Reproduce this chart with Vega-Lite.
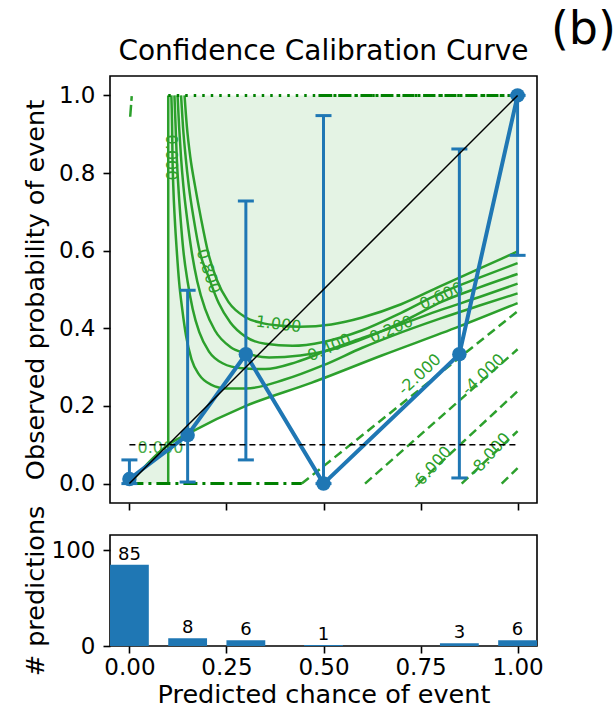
{
  "$schema": "https://vega.github.io/schema/vega-lite/v6.json",
  "title": {"text": "(b)", "anchor": "end", "fontSize": 46, "dx": 72, "offset": -17, "fontWeight": "normal", "color": "black"},
  "padding": {"left": 22, "top": 7, "right": 2, "bottom": 2},
  "bounds": "flush",
  "spacing": 32,
  "config": {
    "font": "DejaVu Sans",
    "view": {"stroke": "black", "strokeWidth": 1.6},
    "axis": {"grid": false, "domain": false, "tickColor": "black", "tickSize": 7, "tickWidth": 1.6, "labelFontSize": 23, "titleFontSize": 25.5, "labelColor": "black", "titleColor": "black", "titleFontWeight": "normal", "labelPadding": 8},
    "title": {"fontSize": 28, "fontWeight": "normal", "color": "black"}
  },
  "datasets": {
    "fill": [
      {"part": "a", "x": 0, "y": 0, "y2": 0},
      {"part": "a", "x": 0.1, "y": 0.1, "y2": 0},
      {"part": "b", "x": 0.1, "y": 1, "y2": 0.1},
      {"part": "b", "x": 0.15, "y": 1, "y2": 0.128},
      {"part": "b", "x": 0.3, "y": 1, "y2": 0.2},
      {"part": "b", "x": 0.47, "y": 1, "y2": 0.26},
      {"part": "b", "x": 0.65, "y": 1, "y2": 0.33},
      {"part": "b", "x": 0.85, "y": 1, "y2": 0.405},
      {"part": "b", "x": 1.0, "y": 1, "y2": 0.465}
    ],
    "contours": [
      {"level": "1.0", "x": 0.142, "y": 1.0}, {"level": "1.0", "x": 0.148, "y": 0.92}, {"level": "1.0", "x": 0.157, "y": 0.84}, {"level": "1.0", "x": 0.169, "y": 0.767}, {"level": "1.0", "x": 0.185, "y": 0.68}, {"level": "1.0", "x": 0.203, "y": 0.594}, {"level": "1.0", "x": 0.225, "y": 0.525}, {"level": "1.0", "x": 0.255, "y": 0.468}, {"level": "1.0", "x": 0.3, "y": 0.428}, {"level": "1.0", "x": 0.34, "y": 0.414}, {"level": "1.0", "x": 0.384, "y": 0.407}, {"level": "1.0", "x": 0.44, "y": 0.404}, {"level": "1.0", "x": 0.52, "y": 0.41}, {"level": "1.0", "x": 0.6, "y": 0.428}, {"level": "1.0", "x": 0.7, "y": 0.462}, {"level": "1.0", "x": 0.8, "y": 0.508}, {"level": "1.0", "x": 0.9, "y": 0.553}, {"level": "1.0", "x": 1.0, "y": 0.598},
      {"level": "0.8", "x": 0.133, "y": 1.0}, {"level": "0.8", "x": 0.138, "y": 0.92}, {"level": "0.8", "x": 0.145, "y": 0.84}, {"level": "0.8", "x": 0.153, "y": 0.767}, {"level": "0.8", "x": 0.166, "y": 0.68}, {"level": "0.8", "x": 0.182, "y": 0.594}, {"level": "0.8", "x": 0.203, "y": 0.535}, {"level": "0.8", "x": 0.23, "y": 0.465}, {"level": "0.8", "x": 0.26, "y": 0.415}, {"level": "0.8", "x": 0.3, "y": 0.378}, {"level": "0.8", "x": 0.35, "y": 0.36}, {"level": "0.8", "x": 0.42, "y": 0.355}, {"level": "0.8", "x": 0.5, "y": 0.365}, {"level": "0.8", "x": 0.6, "y": 0.395}, {"level": "0.8", "x": 0.7, "y": 0.44}, {"level": "0.8", "x": 0.8, "y": 0.49}, {"level": "0.8", "x": 0.9, "y": 0.53}, {"level": "0.8", "x": 1.0, "y": 0.568},
      {"level": "0.6", "x": 0.124, "y": 1.0}, {"level": "0.6", "x": 0.128, "y": 0.92}, {"level": "0.6", "x": 0.133, "y": 0.84}, {"level": "0.6", "x": 0.139, "y": 0.767}, {"level": "0.6", "x": 0.149, "y": 0.68}, {"level": "0.6", "x": 0.16, "y": 0.6}, {"level": "0.6", "x": 0.175, "y": 0.52}, {"level": "0.6", "x": 0.195, "y": 0.45}, {"level": "0.6", "x": 0.22, "y": 0.395}, {"level": "0.6", "x": 0.26, "y": 0.352}, {"level": "0.6", "x": 0.3, "y": 0.336}, {"level": "0.6", "x": 0.36, "y": 0.325}, {"level": "0.6", "x": 0.44, "y": 0.33}, {"level": "0.6", "x": 0.52, "y": 0.345}, {"level": "0.6", "x": 0.62, "y": 0.38}, {"level": "0.6", "x": 0.72, "y": 0.425}, {"level": "0.6", "x": 0.804, "y": 0.468}, {"level": "0.6", "x": 0.9, "y": 0.505}, {"level": "0.6", "x": 1.0, "y": 0.54},
      {"level": "0.4", "x": 0.116, "y": 1.0}, {"level": "0.4", "x": 0.119, "y": 0.92}, {"level": "0.4", "x": 0.122, "y": 0.84}, {"level": "0.4", "x": 0.126, "y": 0.767}, {"level": "0.4", "x": 0.132, "y": 0.68}, {"level": "0.4", "x": 0.139, "y": 0.6}, {"level": "0.4", "x": 0.15, "y": 0.52}, {"level": "0.4", "x": 0.163, "y": 0.45}, {"level": "0.4", "x": 0.18, "y": 0.39}, {"level": "0.4", "x": 0.205, "y": 0.34}, {"level": "0.4", "x": 0.24, "y": 0.31}, {"level": "0.4", "x": 0.29, "y": 0.297}, {"level": "0.4", "x": 0.35, "y": 0.295}, {"level": "0.4", "x": 0.43, "y": 0.313}, {"level": "0.4", "x": 0.515, "y": 0.345}, {"level": "0.4", "x": 0.6, "y": 0.375}, {"level": "0.4", "x": 0.7, "y": 0.41}, {"level": "0.4", "x": 0.804, "y": 0.448}, {"level": "0.4", "x": 0.9, "y": 0.48}, {"level": "0.4", "x": 1.0, "y": 0.515},
      {"level": "0.2", "x": 0.108, "y": 1.0}, {"level": "0.2", "x": 0.11, "y": 0.92}, {"level": "0.2", "x": 0.111, "y": 0.84}, {"level": "0.2", "x": 0.113, "y": 0.767}, {"level": "0.2", "x": 0.117, "y": 0.68}, {"level": "0.2", "x": 0.122, "y": 0.6}, {"level": "0.2", "x": 0.128, "y": 0.52}, {"level": "0.2", "x": 0.136, "y": 0.45}, {"level": "0.2", "x": 0.146, "y": 0.38}, {"level": "0.2", "x": 0.16, "y": 0.32}, {"level": "0.2", "x": 0.18, "y": 0.28}, {"level": "0.2", "x": 0.21, "y": 0.255}, {"level": "0.2", "x": 0.25, "y": 0.245}, {"level": "0.2", "x": 0.3, "y": 0.245}, {"level": "0.2", "x": 0.4, "y": 0.268}, {"level": "0.2", "x": 0.5, "y": 0.305}, {"level": "0.2", "x": 0.6, "y": 0.35}, {"level": "0.2", "x": 0.675, "y": 0.38}, {"level": "0.2", "x": 0.8, "y": 0.425}, {"level": "0.2", "x": 0.9, "y": 0.458}, {"level": "0.2", "x": 1.0, "y": 0.49},
      {"level": "0.0", "x": 0.0, "y": 0.0}, {"level": "0.0", "x": 0.1, "y": 0.1}, {"level": "0.0", "x": 0.15, "y": 0.128}, {"level": "0.0", "x": 0.3, "y": 0.2}, {"level": "0.0", "x": 0.47, "y": 0.26}, {"level": "0.0", "x": 0.65, "y": 0.33}, {"level": "0.0", "x": 0.85, "y": 0.405}, {"level": "0.0", "x": 1.0, "y": 0.465}
    ],
    "vline": [{"x": 0.1, "y": 0, "y2": 1}],
    "neg": [
      {"level": "-2", "x": 0.444, "y": 0}, {"level": "-2", "x": 1.0, "y": 0.444},
      {"level": "-4", "x": 0.607, "y": 0}, {"level": "-4", "x": 1.0, "y": 0.346},
      {"level": "-6", "x": 0.744, "y": 0}, {"level": "-6", "x": 1.0, "y": 0.238},
      {"level": "-8", "x": 0.856, "y": 0}, {"level": "-8", "x": 1.0, "y": 0.135},
      {"level": "-10", "x": 0.959, "y": 0}, {"level": "-10", "x": 1.0, "y": 0.04}
    ],
    "topdot": [{"x": 0.1, "y": 1}, {"x": 1.0, "y": 1}],
    "topdashdot": [{"x": 0.487, "y": 1}, {"x": 1.0, "y": 1}],
    "botdashdot": [{"x": 0.0, "y": 0}, {"x": 0.444, "y": 0}],
    "bang": [{"x": 0.002, "y": 0.945}, {"x": 0.006, "y": 0.998}],
    "diag": [{"x": 0, "y": 0}, {"x": 1, "y": 1}],
    "thresh": [{"x": 0, "y": 0.1}, {"x": 1, "y": 0.1}],
    "calib": [
      {"x": 0.0, "y": 0.0118}, {"x": 0.15, "y": 0.125}, {"x": 0.3, "y": 0.3333},
      {"x": 0.5, "y": 0.0}, {"x": 0.85, "y": 0.3333}, {"x": 1.0, "y": 1.0}
    ],
    "err": [
      {"x": 0.0, "y": 0.0, "y2": 0.061}, {"x": 0.15, "y": 0.004, "y2": 0.498},
      {"x": 0.3, "y": 0.061, "y2": 0.728}, {"x": 0.5, "y": 0.0, "y2": 0.948},
      {"x": 0.85, "y": 0.0145, "y2": 0.862}, {"x": 1.0, "y": 0.588, "y2": 1.0}
    ],
    "caps": [
      {"x": 0.0, "y": 0.0}, {"x": 0.0, "y": 0.061},
      {"x": 0.15, "y": 0.004}, {"x": 0.15, "y": 0.498},
      {"x": 0.3, "y": 0.061}, {"x": 0.3, "y": 0.728},
      {"x": 0.5, "y": 0.0}, {"x": 0.5, "y": 0.948},
      {"x": 0.85, "y": 0.0145}, {"x": 0.85, "y": 0.862},
      {"x": 1.0, "y": 0.588}, {"x": 1.0, "y": 1.0}
    ],
    "hist": [
      {"bin_start": -0.05, "bin_end": 0.05, "center": 0.0, "n": 85},
      {"bin_start": 0.1, "bin_end": 0.2, "center": 0.15, "n": 8},
      {"bin_start": 0.25, "bin_end": 0.35, "center": 0.3, "n": 6},
      {"bin_start": 0.45, "bin_end": 0.55, "center": 0.5, "n": 1},
      {"bin_start": 0.8, "bin_end": 0.9, "center": 0.85, "n": 3},
      {"bin_start": 0.95, "bin_end": 1.05, "center": 1.0, "n": 6}
    ]
  },
  "vconcat": [
    {
      "width": 427,
      "height": 427,
      "title": {"text": "Confidence Calibration Curve", "offset": 10},
      "encoding": {
        "x": {"field": "x", "type": "quantitative", "scale": {"domain": [-0.05, 1.05], "nice": false, "zero": false}, "axis": {"values": [0, 0.25, 0.5, 0.75, 1], "labels": false, "title": null}},
        "y": {"field": "y", "type": "quantitative", "scale": {"domain": [-0.05, 1.05], "nice": false, "zero": false}, "axis": {"values": [0, 0.2, 0.4, 0.6, 0.8, 1.0], "format": ".1f", "title": "Observed probability of event", "titlePadding": 10}}
      },
      "layer": [
        {"data": {"name": "fill"}, "mark": {"type": "area", "color": "#2ca02c", "opacity": 0.13}, "encoding": {"y2": {"field": "y2"}, "detail": {"field": "part"}}},
        {"data": {"name": "vline"}, "mark": {"type": "rule", "color": "#2ca02c", "strokeWidth": 2.5}, "encoding": {"y2": {"field": "y2"}}},
        {"data": {"name": "contours"}, "mark": {"type": "line", "color": "#2ca02c", "strokeWidth": 2.5, "interpolate": "monotone"}, "encoding": {"detail": {"field": "level"}}},
        {"data": {"name": "neg"}, "mark": {"type": "line", "color": "#2ca02c", "strokeWidth": 2.5, "strokeDash": [9, 5]}, "encoding": {"detail": {"field": "level"}}},
        {"data": {"name": "topdot"}, "mark": {"type": "line", "color": "#008000", "strokeWidth": 3, "strokeDash": [2.5, 6]}, "encoding": {}},
        {"data": {"name": "topdashdot"}, "mark": {"type": "line", "color": "#008000", "strokeWidth": 3, "strokeDash": [12, 3, 3, 3]}, "encoding": {}},
        {"data": {"name": "botdashdot"}, "mark": {"type": "line", "color": "#008000", "strokeWidth": 3, "strokeDash": [14, 5, 3, 5]}, "encoding": {}},
        {"data": {"name": "bang"}, "mark": {"type": "line", "color": "#2ca02c", "strokeWidth": 2.5, "strokeDash": [12, 4]}, "encoding": {}},
        {"data": {"values": [{"x": 0.08, "y": 0.092, "t": "0.000"}]}, "mark": {"type": "text", "color": "#2ca02c", "fontSize": 16, "opacity": 0.85}, "encoding": {"text": {"field": "t"}}},
        {"data": {"values": [{"x": 0.107, "y": 0.84, "t": "0.000"}]}, "mark": {"type": "text", "color": "#2ca02c", "fontSize": 16, "angle": 90}, "encoding": {"text": {"field": "t"}}},
        {"data": {"values": [{"x": 0.203, "y": 0.547, "t": "0.800"}]}, "mark": {"type": "text", "color": "#2ca02c", "fontSize": 16, "angle": 72}, "encoding": {"text": {"field": "t"}}},
        {"data": {"values": [{"x": 0.384, "y": 0.41, "t": "1.000"}]}, "mark": {"type": "text", "color": "#2ca02c", "fontSize": 16, "angle": 7}, "encoding": {"text": {"field": "t"}}},
        {"data": {"values": [{"x": 0.515, "y": 0.35, "t": "0.400"}, {"x": 0.675, "y": 0.397, "t": "0.200"}, {"x": 0.804, "y": 0.483, "t": "0.600"}]}, "mark": {"type": "text", "color": "#2ca02c", "fontSize": 16, "angle": -24}, "encoding": {"text": {"field": "t"}}},
        {"data": {"values": [{"x": 0.748, "y": 0.281, "t": "-2.000"}, {"x": 0.912, "y": 0.281, "t": "-4.000"}]}, "mark": {"type": "text", "color": "#2ca02c", "fontSize": 16, "angle": -43}, "encoding": {"text": {"field": "t"}}},
        {"data": {"values": [{"x": 0.778, "y": 0.04, "t": "-6.000"}, {"x": 0.929, "y": 0.075, "t": "-8.000"}]}, "mark": {"type": "text", "color": "#2ca02c", "fontSize": 16, "angle": -48}, "encoding": {"text": {"field": "t"}}},
        {"data": {"name": "err"}, "mark": {"type": "rule", "color": "#1f77b4", "strokeWidth": 3}, "encoding": {"y2": {"field": "y2"}}},
        {"data": {"name": "caps"}, "mark": {"type": "tick", "color": "#1f77b4", "orient": "horizontal", "size": 16, "thickness": 3, "opacity": 1}, "encoding": {}},
        {"data": {"name": "calib"}, "mark": {"type": "line", "color": "#1f77b4", "strokeWidth": 4}, "encoding": {}},
        {"data": {"name": "calib"}, "mark": {"type": "circle", "color": "#1f77b4", "size": 210, "opacity": 1}, "encoding": {}},
        {"data": {"name": "diag"}, "mark": {"type": "line", "color": "black", "strokeWidth": 1.5}, "encoding": {}},
        {"data": {"name": "thresh"}, "mark": {"type": "line", "color": "black", "strokeWidth": 1.5, "strokeDash": [6, 4]}, "encoding": {}}
      ]
    },
    {
      "width": 427,
      "height": 111,
      "data": {"name": "hist"},
      "layer": [
        {
          "mark": {"type": "bar", "color": "#1f77b4"},
          "encoding": {
            "x": {"field": "bin_start", "type": "quantitative", "scale": {"domain": [-0.05, 1.05], "nice": false, "zero": false}, "axis": {"values": [0, 0.25, 0.5, 0.75, 1], "format": ".2f", "title": "Predicted chance of event", "labelPadding": 3, "titlePadding": 3}},
            "x2": {"field": "bin_end"},
            "y": {"field": "n", "type": "quantitative", "scale": {"domain": [0, 116], "nice": false}, "axis": {"values": [0, 100], "title": "# predictions", "titlePadding": 3}},
            "y2": {"datum": 0}
          }
        },
        {
          "mark": {"type": "text", "baseline": "alphabetic", "dy": -5, "fontSize": 18, "color": "black"},
          "encoding": {
            "x": {"field": "center", "type": "quantitative", "axis": {"values": [0, 0.25, 0.5, 0.75, 1], "format": ".2f", "title": "Predicted chance of event", "labelPadding": 3, "titlePadding": 3}},
            "y": {"field": "n", "type": "quantitative", "axis": {"values": [0, 100], "title": "# predictions", "titlePadding": 3}},
            "text": {"field": "n", "type": "quantitative"}
          }
        }
      ]
    }
  ]
}
